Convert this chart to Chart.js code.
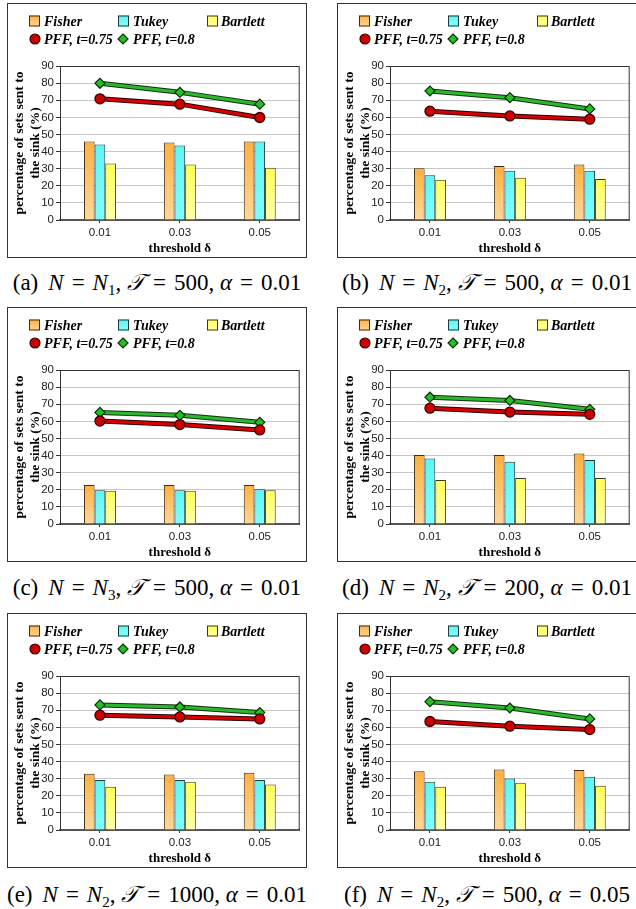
<!DOCTYPE html>
<html>
<head>
<meta charset="utf-8">
<script src="https://cdn.jsdelivr.net/npm/chart.js@4.4.0/dist/chart.umd.min.js"></script>
<style>
  body { margin: 0; width: 636px; height: 909px; overflow: hidden; background: #fff; position: relative; }
  .panel { position: absolute; width: 300px; height: 255px; border: 1px solid #333; box-sizing: border-box; background: #fff; }
  .panel canvas { display: block; }
  .cap { position: absolute; width: 300px; text-align: center; white-space: nowrap;
         font-family: "Liberation Serif", "DejaVu Serif", serif; font-size: 23px; color: #000; }
  .cap i { font-style: italic; }
  .cap .eq { margin: 0 8px; }
  .cap sub { font-size: 15px; vertical-align: -5px; line-height: 0; }
  .cap .lbl { margin-right: 10px; }
</style>
</head>
<body>
<script>
// categories on the x axis
const thresholds = ['0.01', '0.03', '0.05'];
const seriesNames = ['Fisher', 'Tukey', 'Bartlett', 'PFF, t=0.75', 'PFF, t=0.8'];

// one row per panel: a, b, c, d, e, f
const fisher = [
  [45.9, 45.3, 45.9],
  [30.3, 31.5, 32.5],
  [22.8, 22.8, 22.8],
  [40.3, 40.3, 41.2],
  [32.9, 32.5, 33.4],
  [34.4, 35.4, 35.0]
];
const tukey = [
  [44.1, 43.5, 45.9],
  [26.2, 28.8, 28.8],
  [19.7, 19.7, 20.3],
  [38.3, 36.4, 37.4],
  [29.2, 29.2, 29.2],
  [28.2, 30.1, 31.1]
];
const bartlett = [
  [33.0, 32.5, 30.5],
  [23.5, 24.7, 23.9],
  [19.4, 19.4, 19.7],
  [25.7, 26.9, 26.9],
  [25.3, 28.2, 26.6],
  [25.3, 27.6, 25.9]
];
const pff75 = [
  [70.8, 67.7, 59.9],
  [63.6, 60.8, 58.9],
  [60.2, 58.1, 55.0],
  [67.7, 65.4, 64.1],
  [67.1, 66.1, 64.9],
  [63.4, 60.7, 58.7]
];
const pff8 = [
  [79.9, 74.6, 67.7],
  [75.4, 71.5, 64.9],
  [65.2, 63.5, 59.4],
  [74.1, 72.2, 67.0],
  [73.1, 71.9, 68.6],
  [75.0, 71.3, 64.9]
];

// captions
const panelLetters = ['a', 'b', 'c', 'd', 'e', 'f'];
const capN = ['1', '2', '3', '2', '2', '2'];
const capT = ['500', '500', '500', '200', '1000', '500'];
const capAlpha = ['0.01', '0.01', '0.01', '0.01', '0.01', '0.05'];

const yMin = 0, yMax = 90, yStep = 10;

// bar fills: top colour -> bottom colour
const barTop = ['#ffb040', '#5ff4f4', '#ffff55'];
const barBottom = ['#ffd898', '#80ffff', '#ffffa8'];
const barEdge = ['#3e2c14', '#203838', '#38381a'];

function barFill(k) {
  return function (c) {
    const chart = c.chart;
    const area = chart.chartArea;
    if (!area || c.raw == null) return barTop[k];
    const top = chart.scales.y.getPixelForValue(c.raw);
    const g = chart.ctx.createLinearGradient(0, top, 0, area.bottom);
    g.addColorStop(0, barTop[k]);
    g.addColorStop(1, barBottom[k]);
    return g;
  };
}

// dark edge under each line
const outlinePlugin = {
  id: 'outline',
  beforeDatasetDraw(chart, args) {
    const ds = chart.data.datasets[args.index];
    if (!ds.outline) return;
    const pts = args.meta.data;
    const ctx = chart.ctx;
    ctx.save();
    ctx.beginPath();
    pts.forEach((p, k) => k ? ctx.lineTo(p.x, p.y) : ctx.moveTo(p.x, p.y));
    ctx.lineWidth = ds.borderWidth + 2;
    ctx.strokeStyle = ds.outline;
    ctx.lineJoin = 'round';
    ctx.stroke();
    ctx.restore();
  }
};

// top and right edges of the plot box
const boxPlugin = {
  id: 'box',
  beforeDatasetsDraw(chart) {
    const a = chart.chartArea;
    const ctx = chart.ctx;
    ctx.save();
    ctx.strokeStyle = '#333';
    ctx.lineWidth = 1;
    ctx.beginPath();
    ctx.moveTo(a.left, a.top + 0.5);
    ctx.lineTo(a.right - 0.5, a.top + 0.5);
    ctx.lineTo(a.right - 0.5, a.bottom);
    ctx.stroke();
    ctx.restore();
  }
};

// legend in two rows like the original
const legendPlugin = {
  id: 'panelLegend',
  afterDraw(chart) {
    const ctx = chart.ctx;
    const ds = chart.data.datasets;
    const boxX = [21, 110, 199];
    const textX1 = [36, 125, 213];
    const row1 = 17, row2 = 35;
    ctx.save();
    ctx.font = 'italic bold 14px "Liberation Serif"';
    ctx.textBaseline = 'middle';
    ctx.fillStyle = '#000';
    for (let k = 0; k < 3; k++) {
      const g = ctx.createLinearGradient(0, row1 - 6, 0, row1 + 6);
      g.addColorStop(0, barTop[k]);
      g.addColorStop(1, barBottom[k]);
      ctx.fillStyle = g;
      ctx.fillRect(boxX[k], row1 - 5.5, 11, 11);
      ctx.strokeStyle = barEdge[k];
      ctx.lineWidth = 1;
      ctx.strokeRect(boxX[k] + 0.5, row1 - 5, 10, 10);
      ctx.fillStyle = '#000';
      ctx.fillText(ds[k].label, textX1[k], row1 + 1);
    }
    // circle marker
    ctx.beginPath();
    ctx.arc(27, row2, 5, 0, Math.PI * 2);
    ctx.fillStyle = ds[3].pointBackgroundColor;
    ctx.fill();
    ctx.strokeStyle = ds[3].pointBorderColor;
    ctx.lineWidth = 1.2;
    ctx.stroke();
    // diamond marker
    ctx.beginPath();
    ctx.moveTo(115, row2 - 5);
    ctx.lineTo(120, row2);
    ctx.lineTo(115, row2 + 5);
    ctx.lineTo(110, row2);
    ctx.closePath();
    ctx.fillStyle = ds[4].pointBackgroundColor;
    ctx.fill();
    ctx.strokeStyle = ds[4].pointBorderColor;
    ctx.stroke();
    ctx.fillStyle = '#000';
    ctx.fillText(ds[3].label, 36, row2 + 1);
    ctx.fillText(ds[4].label, 125, row2 + 1);
    ctx.restore();
  }
};

const colLeft = [7, 337];
const rowTop = [3, 307, 613];
const capTop = [270, 575, 882];

for (let i = 0; i < 6; i++) {
  const col = i % 2, row = Math.floor(i / 2);
  const panel = document.createElement('div');
  panel.className = 'panel';
  panel.style.left = colLeft[col] + 'px';
  panel.style.top = rowTop[row] + 'px';
  const canvas = document.createElement('canvas');
  canvas.width = 298;
  canvas.height = 253;
  canvas.style.width = '298px';
  canvas.style.height = '253px';
  panel.appendChild(canvas);
  document.body.appendChild(panel);

  const cap = document.createElement('div');
  cap.className = 'cap';
  cap.style.left = colLeft[col] + 'px';
  cap.style.top = capTop[row] + 'px';
  cap.innerHTML = '<span class="lbl">(' + panelLetters[i] + ')</span>' +
    '<i>N</i><span class="eq">=</span><i>N</i><sub>' + capN[i] + '</sub>, ' +
    '<i>𝒯</i><span class="eq">=</span>' + capT[i] + ', ' +
    '<i>α</i><span class="eq">=</span>' + capAlpha[i];
  document.body.appendChild(cap);

  new Chart(canvas, {
    type: 'bar',
    data: {
      labels: thresholds,
      datasets: [
        { label: seriesNames[0], data: fisher[i], backgroundColor: barFill(0), borderColor: barEdge[0], borderWidth: 1, barPercentage: 1, categoryPercentage: 0.4, order: 1 },
        { label: seriesNames[1], data: tukey[i], backgroundColor: barFill(1), borderColor: barEdge[1], borderWidth: 1, barPercentage: 1, categoryPercentage: 0.4, order: 1 },
        { label: seriesNames[2], data: bartlett[i], backgroundColor: barFill(2), borderColor: barEdge[2], borderWidth: 1, barPercentage: 1, categoryPercentage: 0.4, order: 1 },
        { type: 'line', label: seriesNames[3], data: pff75[i], borderColor: '#d80000', borderWidth: 3, outline: '#2a0000',
          pointStyle: 'circle', pointRadius: 5, pointBackgroundColor: '#cc0000', pointBorderColor: '#3a0000', pointBorderWidth: 1.3, order: 0 },
        { type: 'line', label: seriesNames[4], data: pff8[i], borderColor: '#2cb82c', borderWidth: 3, outline: '#123012',
          pointStyle: 'rectRot', pointRadius: 5, pointBackgroundColor: '#22c022', pointBorderColor: '#0c300c', pointBorderWidth: 1.2, order: 0 }
      ]
    },
    options: {
      responsive: false,
      animation: false,
      layout: { padding: { top: 62, left: 0, right: 0, bottom: 0 } },
      plugins: { legend: { display: false }, tooltip: { enabled: false } },
      scales: {
        x: {
          grid: { display: true, drawOnChartArea: false, offset: false, tickLength: 3, tickColor: '#333' },
          border: { display: true, color: '#555', width: 2 },
          ticks: { color: '#222', padding: 3, font: { family: '"Liberation Sans"', size: 11.5 } },
          title: { display: true, text: 'threshold δ', color: '#000', padding: { top: 0, bottom: 1 },
                   font: { family: '"Liberation Serif"', size: 13, weight: 'bold' } },
          afterFit: s => { s.height = 37; }
        },
        y: {
          min: yMin, max: yMax,
          grid: { color: '#c8c8c8', tickColor: '#333', tickLength: 4 },
          border: { display: true, color: '#333', width: 1 },
          ticks: { stepSize: yStep, color: '#222', padding: 2, font: { family: '"Liberation Sans"', size: 11.5 } },
          title: { display: true, text: ['percentage of sets sent to', 'the sink (%)'], color: '#000',
                   padding: { top: 3, bottom: 0 }, font: { family: '"Liberation Serif"', size: 13.5, weight: 'bold', lineHeight: 1.2 } },
          afterFit: s => { s.width = 52; }
        }
      }
    },
    plugins: [outlinePlugin, boxPlugin, legendPlugin]
  });
}
</script>
</body>
</html>
